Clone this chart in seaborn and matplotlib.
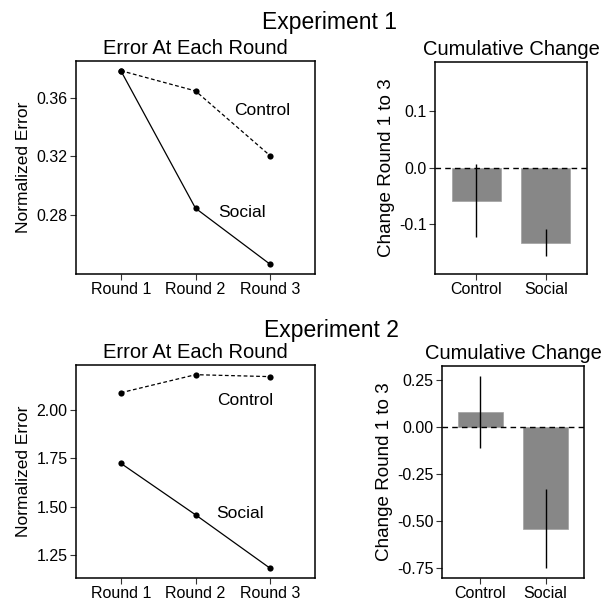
import numpy as np
import pandas as pd
import matplotlib
matplotlib.use("Agg")
import matplotlib.pyplot as plt
import seaborn as sns

rounds = ["Round 1", "Round 2", "Round 3"]
groups = ["Control", "Social"]

exp1_control = [0.3789, 0.365, 0.3205]
exp1_social = [0.3789, 0.2845, 0.246]
exp1_change = [-0.058, -0.132]
exp1_err = [0.064, 0.0235]

exp2_control = [2.087, 2.180, 2.170]
exp2_social = [1.724, 1.459, 1.1835]
exp2_change = [0.082, -0.540]
exp2_err = [0.193, 0.212]

sns.set_theme(style="white")
plt.rcParams['font.family'] = ['Liberation Sans', 'DejaVu Sans']
plt.rcParams['text.color'] = 'black'
plt.rcParams['axes.labelcolor'] = 'black'
plt.rcParams['axes.titlecolor'] = 'black'

fig = plt.figure(figsize=(6.08, 6.04), dpi=100)

W, H = 608, 604
def box(x0, y0, x1, y1):
    return [x0 / W, (H - y1) / H, (x1 - x0) / W, (y1 - y0) / H]

def style_axes(ax):
    for s in ax.spines.values():
        s.set_visible(True)
        s.set_color("black")
        s.set_linewidth(1.1)
    ax.tick_params(axis="both", which="both", direction="out", length=4,
                   width=0.8, color="#333333", labelsize=11.5, labelcolor="black",
                   pad=2, left=True, bottom=True)

def line_panel(ax, control, social, yticks, yfmt, ctext, stext):
    df = pd.DataFrame({
        "Round": rounds * 2,
        "Error": control + social,
        "Condition": ["Control"] * 3 + ["Social"] * 3,
    })
    df["x"] = df["Round"].map({r: i for i, r in enumerate(rounds)})
    sns.lineplot(data=df, x="x", y="Error", style="Condition",
                 dashes={"Control": (3, 2), "Social": ""}, color="black",
                 linewidth=0.9, legend=False, ax=ax, sort=False)
    sns.scatterplot(data=df, x="x", y="Error", color="black", s=20,
                    edgecolor="black", linewidth=0, legend=False, ax=ax, zorder=3)
    ax.set_xlim(-0.6, 2.6)
    lo = min(control + social); hi = max(control + social)
    pad = (hi - lo) * 0.05
    ax.set_ylim(lo - pad, hi + pad)
    ax.set_xticks(range(3))
    ax.set_xticklabels(rounds)
    ax.set_yticks(yticks)
    ax.set_yticklabels([yfmt.format(v) for v in yticks])
    ax.set_xlabel("")
    ax.set_ylabel("Normalized Error", fontsize=12.5, labelpad=4)
    ax.set_title("Error At Each Round", fontsize=14.5, pad=5)
    ax.text(ctext[0], ctext[1], "Control", fontsize=12.5, ha="center", va="center")
    ax.text(stext[0], stext[1], "Social", fontsize=12.5, ha="center", va="center")
    style_axes(ax)

def bar_panel(ax, change, err, yticks, yfmt, ylim):
    df = pd.DataFrame({"Condition": groups, "Change": change})
    sns.barplot(data=df, x="Condition", y="Change", color="#878787",
                saturation=1, width=0.7, errorbar=None, ax=ax,
                edgecolor="#a0a0a0", linewidth=0.5)
    ax.errorbar(range(len(groups)), change, yerr=err, fmt="none",
                ecolor="black", elinewidth=1.0, capsize=0, zorder=4)
    ax.axhline(0, color="black", linestyle=(0, (4, 3)), linewidth=1.0, zorder=5)
    ax.set_xlim(-0.59, 1.59)
    ax.set_ylim(*ylim)
    ax.set_yticks(yticks)
    ax.set_yticklabels([yfmt.format(v) for v in yticks])
    ax.set_xlabel("")
    ax.set_ylabel("Change Round 1 to 3", fontsize=13.6, labelpad=3)
    ax.set_title("Cumulative Change", fontsize=14.5, pad=5)
    style_axes(ax)

ax1 = fig.add_axes(box(76, 61, 315, 274))
line_panel(ax1, exp1_control, exp1_social, [0.28, 0.32, 0.36], "{:.2f}",
           (1.89, 0.3513), (1.62, 0.2816))

ax2 = fig.add_axes(box(435, 62, 587, 274))
bar_panel(ax2, exp1_change, exp1_err, [-0.1, 0.0, 0.1], "{:.1f}", (-0.1875, 0.187))

ax3 = fig.add_axes(box(76, 365, 315, 578))
line_panel(ax3, exp2_control, exp2_social, [1.25, 1.50, 1.75, 2.00], "{:.2f}",
           (1.66, 2.048), (1.60, 1.468))

lo2 = min(c - e for c, e in zip(exp2_change, exp2_err))
hi2 = max(c + e for c, e in zip(exp2_change, exp2_err))
p2 = (hi2 - lo2) * 0.05
ax4 = fig.add_axes(box(442, 366, 584, 578))
bar_panel(ax4, exp2_change, exp2_err, [-0.75, -0.50, -0.25, 0.00, 0.25], "{:.2f}",
          (lo2 - p2, hi2 + p2))

fig.text(330 / W, 1 - 23 / H, "Experiment 1", fontsize=16.5, ha="center", va="center")
fig.text(331 / W, 1 - 330 / H, "Experiment 2", fontsize=16.5, ha="center", va="center")

fig.savefig("out.png", dpi=100)
